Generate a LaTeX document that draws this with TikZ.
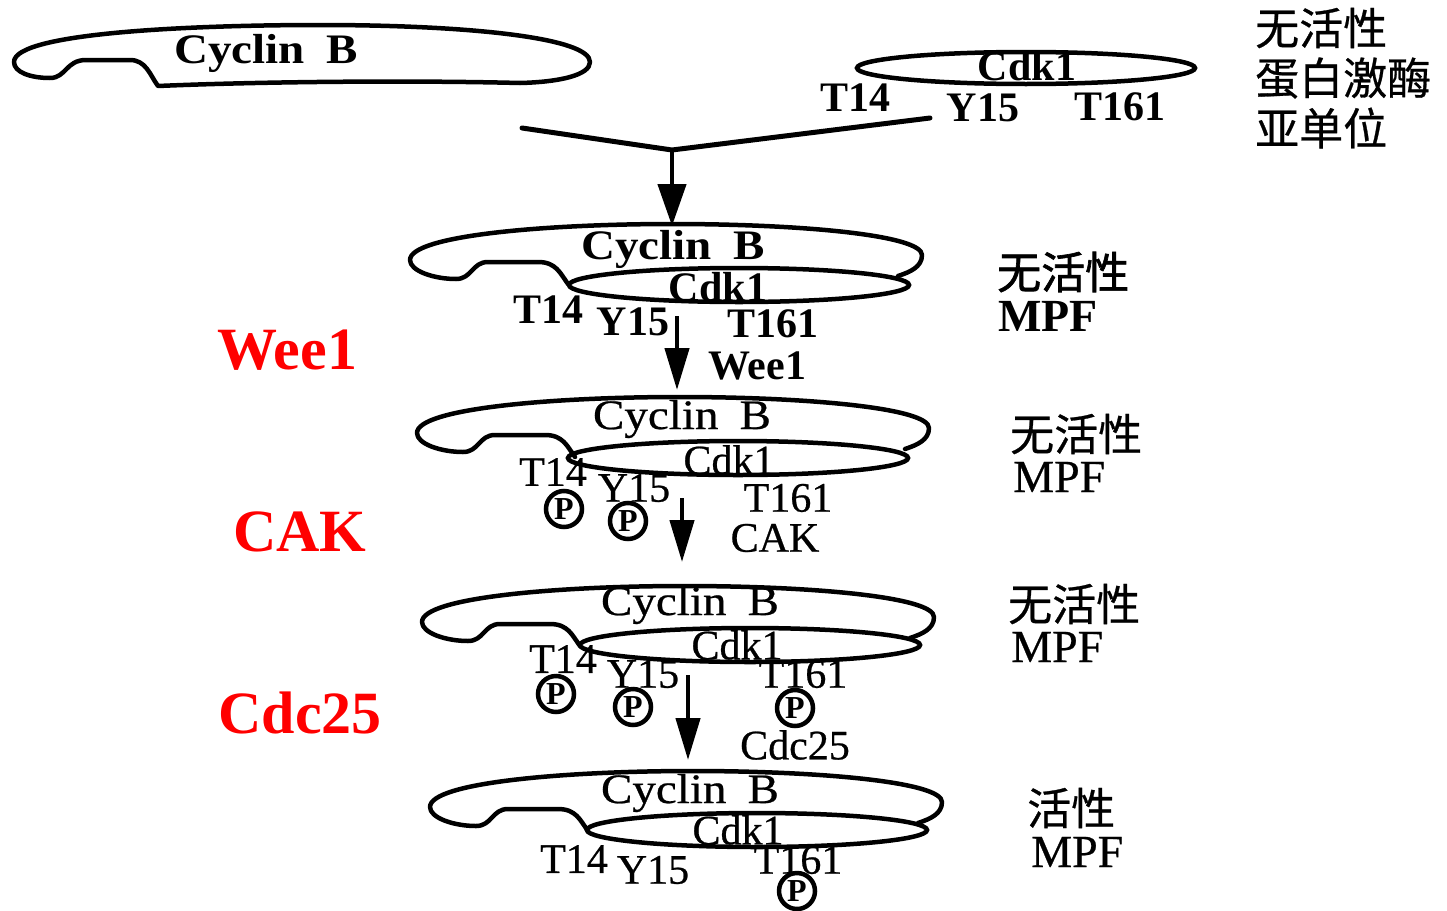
\documentclass[tikz,border=0pt]{standalone}
\usepackage{fontspec}
\usepackage{graphicx}
\setmainfont{Liberation Serif}
\newfontfamily\heavyserif[FakeBold=0.6]{Liberation Serif}
\newfontfamily\cjk[FakeBold=0.6]{Noto Sans CJK SC}
\newfontfamily\cjkb[FakeBold=1.5]{Noto Sans CJK SC}
\usetikzlibrary{arrows.meta,shapes.geometric}

% "Cyclin B" is set a little wider than the plain face
\newcommand{\cycB}{\scalebox{1.12}[1]{Cyclin\hspace{0.45em}B}}

\tikzset{
  protline/.style={line width=4.5pt, line join=round, line cap=round},
  cdk/.style={draw, ellipse, line width=4.5pt, minimum width=340pt, minimum height=34pt, inner sep=0pt},
  txt/.style={inner sep=0pt, font=\fontsize{42pt}{42pt}\heavyserif},
  btxt/.style={inner sep=0pt, font=\fontsize{42pt}{42pt}\selectfont\bfseries},
  mpf/.style={inner sep=0pt, font=\fontsize{46pt}{46pt}\heavyserif},
  bmpf/.style={inner sep=0pt, font=\fontsize{46pt}{46pt}\selectfont\bfseries},
  cn/.style={inner sep=0pt, font=\fontsize{44pt}{44pt}\cjk},
  bcn/.style={inner sep=0pt, font=\fontsize{44pt}{44pt}\cjkb},
  enz/.style={inner sep=0pt, text=red, font=\fontsize{60pt}{60pt}\selectfont\bfseries},
  phos/.style={draw, circle, line width=4.5pt, minimum size=36pt, inner sep=0pt, font=\fontsize{32pt}{32pt}\selectfont\bfseries},
  flow/.style={-{Triangle[length=42pt,width=24pt]}, line width=4.5pt},
  % cyclin B outline, origin at its left tip, joined to the Cdk1 ellipse
  cyclin/.pic={
    \draw[protline] (158,25) .. controls (150,14) and (146,3) .. (128,3) -- (78,3)
      .. controls (62,3) and (62,20) .. (46,20)
      .. controls (24,20) and (0,12) .. (0,1)
      .. controls (0,-24) and (140,-35) .. (262,-35)
      .. controls (390,-35) and (512,-24) .. (512,-4)
      .. controls (512,8) and (500,13) .. (488,17);
  }
}

\begin{document}
\begin{tikzpicture}[x=1pt,y=-1pt]
\useasboundingbox (0,0) rectangle (1447,910);

% ---- free cyclin B and Cdk1 subunit ----
\draw[protline] (14,62) .. controls (14,32) and (200,25) .. (320,25)
  .. controls (470,25) and (590,38) .. (590,62)
  .. controls (590,75) and (560,82) .. (520,83)
  .. controls (400,80) and (250,82) .. (158,86)
  .. controls (150,75) and (146,60) .. (130,60) -- (86,60)
  .. controls (66,60) and (66,78) .. (50,78)
  .. controls (30,78) and (14,72) .. (14,62) -- cycle;
\node[btxt] (cb1) at (266,53) {\cycB};
\node[cdk, minimum width=338pt, minimum height=32pt] (k1) at (1026,68) {};
\node[btxt] (kt1) at (1027,66) {Cdk1};
\node[btxt] (t14a) at (855,98) {T14};
\node[btxt] (y15a) at (983,108) {Y15};
\node[btxt] (t161a) at (1120,107) {T161};
\node[cn, anchor=west] (l1a) at (1255,28) {无活性};
\node[cn, anchor=west] (l1b) at (1255,78) {蛋白激酶};
\node[cn, anchor=west] (l1c) at (1255,128) {亚单位};

% ---- joining the two subunits ----
\coordinate (la) at (522,128);
\coordinate (ra) at (930,118);
\coordinate (jn) at (672,150);
\coordinate (a1) at (672,226);
\draw[line width=5pt, line cap=round] (la) -- (jn) -- (ra);
\draw[flow, -{Triangle[length=42pt,width=28pt]}] (jn) -- (a1);

% ---- complex 2 ----
\pic at (410,259) {cyclin};
\node[cdk] (k2) at (739,285) {};
\node[btxt] (cb2) at (673,249) {\cycB};
\node[btxt] (kt2) at (718,287) {Cdk1};
\node[btxt] (t14b) at (548,310) {T14};
\node[btxt] (y15b) at (633,322) {Y15};
\node[btxt] (t161b) at (773,324) {T161};
\node[bcn, anchor=west] (l2a) at (997,272) {无活性};
\node[bmpf, anchor=west] (l2b) at (998,316) {MPF};
\coordinate (s2) at (677,316);
\coordinate (e2) at (677,390);
\draw[flow] (s2) -- (e2);
\node[btxt] (w2) at (757,366) {Wee1};

% ---- complex 3 ----
\pic at (417,432) {cyclin};
\node[cdk] (k3) at (738,458) {};
\node[txt] (cb3) at (682,419) {\cycB};
\node[txt] (kt3) at (729,460) {Cdk1};
\node[txt] (t14c) at (553,472) {T14};
\node[txt] (y15c) at (634,488) {Y15};
\node[txt] (t161c) at (788,498) {T161};
\node[phos] (p3a) at (564,509) {P};
\node[phos] (p3b) at (628,521) {P};
\node[cn, anchor=west] (l3a) at (1010,434) {无活性};
\node[mpf, anchor=west] (l3b) at (1013,477) {MPF};
\coordinate (s3) at (682,498);
\coordinate (e3) at (682,562);
\draw[flow] (s3) -- (e3);
\node[txt] (w3) at (775,538) {CAK};

% ---- complex 4 ----
\pic at (422,621) {cyclin};
\node[cdk] (k4) at (750,645) {};
\node[txt] (cb4) at (690,605) {\cycB};
\node[txt] (kt4) at (737,645) {Cdk1};
\node[txt] (t14d) at (563,659) {T14};
\node[txt] (y15d) at (643,674) {Y15};
\node[txt] (t161d) at (803,674) {T161};
\node[phos] (p4a) at (556,694) {P};
\node[phos] (p4b) at (633,707) {P};
\node[phos] (p4c) at (795,708) {P};
\node[cn, anchor=west] (l4a) at (1008,604) {无活性};
\node[mpf, anchor=west] (l4b) at (1011,647) {MPF};
\coordinate (s4) at (688,675);
\coordinate (e4) at (688,760);
\draw[flow] (s4) -- (e4);
\node[txt] (w4) at (795,745) {Cdc25};

% ---- complex 5 (active MPF) ----
\pic at (430,806) {cyclin};
\node[cdk] (k5) at (757,830) {};
\node[txt] (cb5) at (690,793) {\cycB};
\node[txt] (kt5) at (738,830) {Cdk1};
\node[txt] (t14e) at (574,859) {T14};
\node[txt] (y15e) at (653,870) {Y15};
\node[txt] (t161e) at (798,860) {T161};
\node[phos] (p5a) at (797,891) {P};
\node[cn, anchor=west] (l5a) at (1027,808) {活性};
\node[mpf, anchor=west] (l5b) at (1031,852) {MPF};

% ---- kinase / phosphatase names ----
\node[enz] (wee) at (287,350) {Wee1};
\node[enz] (cak) at (300,532) {CAK};
\node[enz] (cdc) at (300,713) {Cdc25};
\end{tikzpicture}
\end{document}
